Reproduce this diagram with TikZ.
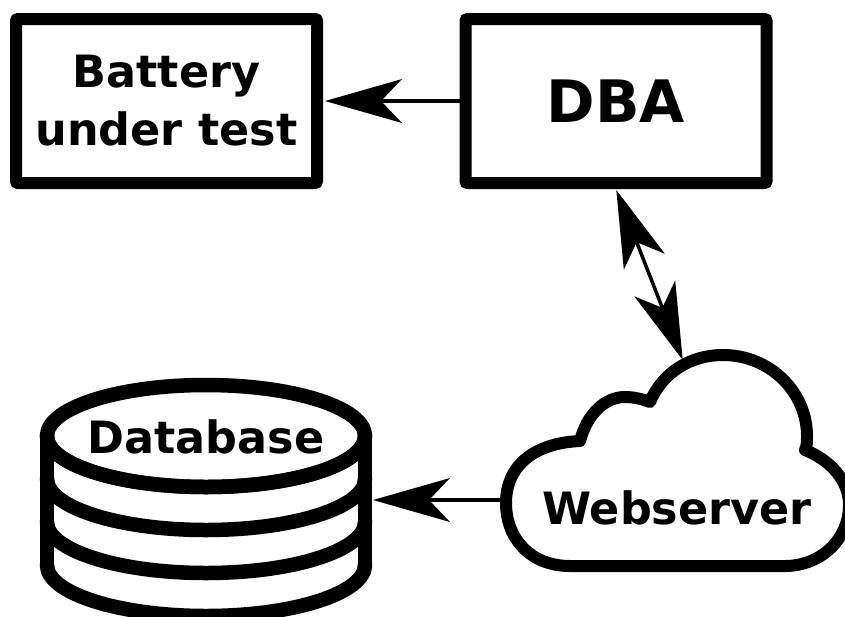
\documentclass[tikz,border=0pt]{standalone}
\usepackage{fontspec}
\setmainfont{DejaVu Sans}
\usetikzlibrary{arrows.meta}
\tikzset{
  boxnode/.style={draw=black,line width=12pt,rounded corners=2pt,minimum width=301pt,minimum height=164pt,inner sep=0pt,align=center,font=\fontsize{44.5pt}{58pt}\selectfont\bfseries},
  labelnode/.style={inner sep=0pt,font=\fontsize{44.5pt}{58pt}\selectfont\bfseries},
  heavy/.style={line width=14.5pt,line join=round,line cap=round},
  conn/.style={line width=3.5pt,-{Stealth[length=77pt,width=44pt,inset=21pt,line width=0pt]}},
  dconn/.style={line width=3.5pt,{Stealth[length=77pt,width=44pt,inset=21pt,line width=0pt]}-{Stealth[length=77pt,width=44pt,inset=21pt,line width=0pt]}}
}
\begin{document}
\begin{tikzpicture}[x=1pt,y=-1pt]
\useasboundingbox (0,0) rectangle (845,616);
\clip (0,0) rectangle (845,616);
\node[boxnode] (bat) at (166.5,101) {Battery\\under test};
\node[boxnode,font=\fontsize{58.5pt}{60pt}\selectfont\bfseries] (dba) at (616,101) {DBA};
% Database
\draw[heavy,fill=white] (206,436) ellipse[x radius=159,y radius=51];
\foreach \yy in {436,479,522,565}{
  \draw[heavy] (47,\yy) .. controls (47,\yy+28) and (118,\yy+51) .. (206,\yy+51)
     .. controls (294,\yy+51) and (365,\yy+28) .. (365,\yy);
}
\draw[heavy] (47,436) -- (47,565);
\draw[heavy] (365,436) -- (365,565);
\node[labelnode] (dbl) at (206,437) {Database};
\coordinate (dbport) at (373,500);
% Cloud
\draw[line width=12pt,line join=round] (570,566)
  .. controls (530,566) and (506,538) .. (506,503)
  .. controls (506,465) and (535,443) .. (580,441)
  .. controls (587,414) and (605,397) .. (625,397)
  .. controls (634,397) and (642,399) .. (650,402)
  .. controls (662,373) and (690,355) .. (723,355)
  .. controls (770,355) and (807,392) .. (807,436)
  .. controls (807,442) and (807,446) .. (805,450)
  .. controls (830,460) and (849,480) .. (849,505)
  .. controls (849,540) and (820,566) .. (785,566)
  -- cycle;
\node[labelnode] (web) at (677,508) {Webserver};
\coordinate (webleft) at (500,500);
\coordinate (webtop) at (682.7,360);
\coordinate (dbabot) at (616.3,190);
% connectors
\draw[conn] (dba.west) -- ([xshift=2pt]bat.east);
\draw[conn] (webleft) -- (dbport);
\draw[dconn] (dbabot) -- (webtop);
\end{tikzpicture}
\end{document}
